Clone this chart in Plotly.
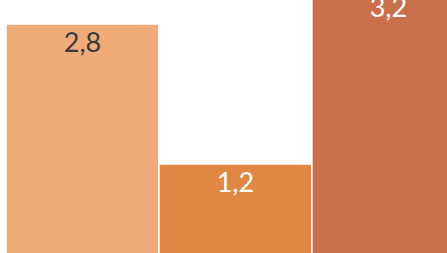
import plotly.graph_objects as go

categories = ["A", "B", "C"]
values = [2.8, 1.2, 3.2]
bar_colors = ["#F0AB7A", "#E08843", "#C96F4C"]
label_colors = ["#3A3A3A", "#FFFFFF", "#FFFFFF"]

fig = go.Figure()
fig.add_trace(
    go.Bar(
        x=categories,
        y=values,
        marker=dict(color=bar_colors, line=dict(color="#FFFFFF", width=1.5)),
        cliponaxis=True,
        hoverinfo="skip",
    )
)
fig.add_trace(
    go.Scatter(
        x=categories,
        y=values,
        mode="markers+text",
        marker=dict(size=10.8, opacity=0),
        texttemplate="%{y:.1f}",
        textposition="bottom center",
        textfont=dict(family="Lato", size=27, color=label_colors),
        cliponaxis=True,
        hoverinfo="skip",
    )
)

fig.update_layout(
    width=447,
    height=253,
    margin=dict(l=0, r=0, t=0, b=0),
    paper_bgcolor="#FFFFFF",
    plot_bgcolor="#FFFFFF",
    bargap=0,
    separators=",.",
    showlegend=False,
)
fig.update_xaxes(visible=False, range=[-0.539, 2.383])
fig.update_yaxes(visible=False, range=[0.183, 3.074])

fig.write_html(
    "out.html",
    config={"displayModeBar": False, "staticPlot": True},
    post_script="document.body.style.margin='0';document.body.style.padding='0';",
)
